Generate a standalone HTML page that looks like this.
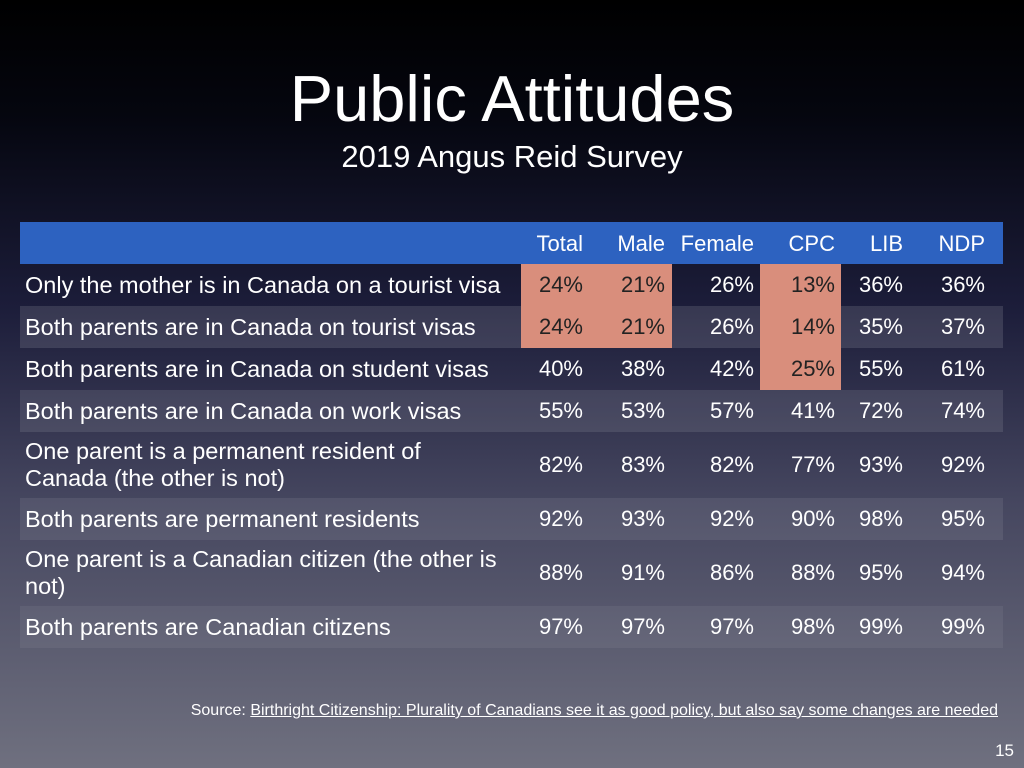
<!DOCTYPE html>
<html><head><style>
body{margin:0;width:1024px;height:768px;overflow:hidden;font-family:"Liberation Sans",sans-serif;color:#fff;
background:linear-gradient(to bottom,#000 0%,#05060f 15%,#1c1d3a 40%,#45465f 65%,#6f707f 100%);position:relative}
.a{position:absolute;white-space:nowrap}
.row{position:absolute;left:20px;width:983px}
.lab{position:absolute;font-size:23.5px;line-height:27px}
.n{position:absolute;font-size:22px;text-align:right;width:80px}
.s{position:absolute;background:#d98e7c}
</style></head><body>
<div class="a" style="left:0;width:1024px;text-align:center;top:62px;font-size:65px;line-height:74px">Public Attitudes</div>
<div class="a" style="left:0;width:1024px;text-align:center;top:139px;font-size:31px;line-height:36px">2019 Angus Reid Survey</div>

<div class="row" style="top:222px;height:42px;background:#2d62c0"></div>
<div class="row" style="top:306px;height:42px;background:rgba(255,255,255,0.12)"></div>
<div class="row" style="top:390px;height:42px;background:rgba(255,255,255,0.10)"></div>
<div class="row" style="top:498px;height:42px;background:rgba(255,255,255,0.08)"></div>
<div class="row" style="top:606px;height:42px;background:rgba(255,255,255,0.06)"></div>
<div class="s" style="left:521px;top:264px;width:151px;height:84px"></div>
<div class="s" style="left:760px;top:264px;width:81px;height:126px"></div>

<div id="t"></div>
<script>
const cols=[583,665,754,835,903,985];
const hdr=["Total","Male","Female","CPC","LIB","NDP"];
let h='';
hdr.forEach((c,i)=>h+=`<div class="n" style="left:${cols[i]-100}px;width:100px;top:231px">${c}</div>`);
const rows=[
[264,42,"Only the mother is in Canada on a tourist visa",[24,21,26,13,36,36]],
[306,42,"Both parents are in Canada on tourist visas",[24,21,26,14,35,37]],
[348,42,"Both parents are in Canada on student visas",[40,38,42,25,55,61]],
[390,42,"Both parents are in Canada on work visas",[55,53,57,41,72,74]],
[432,66,"One parent is a permanent resident of<br>Canada (the other is not)",[82,83,82,77,93,92]],
[498,42,"Both parents are permanent residents",[92,93,92,90,98,95]],
[540,66,"One parent is a Canadian citizen (the other is<br>not)",[88,91,86,88,95,94]],
[606,42,"Both parents are Canadian citizens",[97,97,97,98,99,99]]];
rows.forEach((r,ri)=>{
 const lines=r[2].includes('<br>')?2:1;
 h+=`<div class="a lab" style="left:25px;top:${r[0]+(r[1]-27*lines)/2}px">${r[2]}</div>`;
 r[3].forEach((v,i)=>{
  const dark=(ri<2&&i<2)||(ri<3&&i==3);
  h+=`<div class="n" style="left:${cols[i]-80}px;top:${r[0]+r[1]/2-13}px;color:${dark?'#222':'#fff'}">${v}%</div>`;
 });
});
document.getElementById('t').innerHTML=h;
</script>
<div class="a" style="right:26px;top:702px;font-size:16px">Source: <u>Birthright Citizenship: Plurality of Canadians see it as good policy, but also say some changes are needed</u></div>
<div class="a" style="right:10px;top:741px;font-size:17px">15</div>
</body></html>
